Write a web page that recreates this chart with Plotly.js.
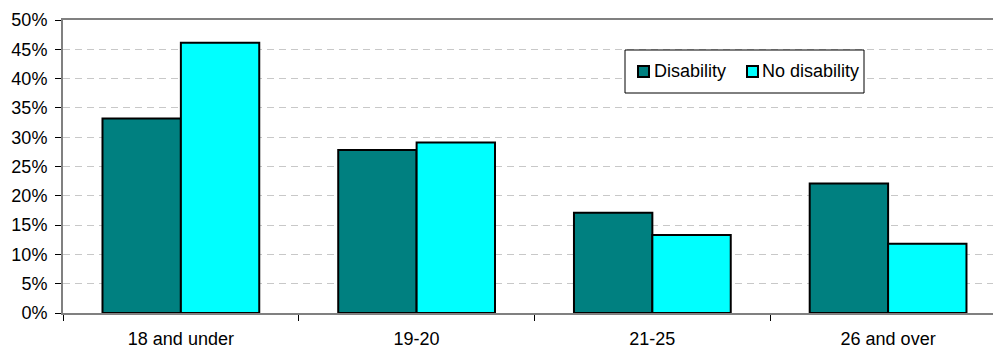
<!DOCTYPE html>
<html>
<head>
<meta charset="utf-8">
<script src="https://cdn.plot.ly/plotly-3.0.1.min.js"></script>
<style>html,body{margin:0;padding:0;background:#fff;overflow:hidden}#chart{width:993px;height:350px}</style>
</head>
<body>
<div id="chart"></div>
<script>
const categories = ["18 and under", "19-20", "21-25", "26 and over"];
const disability = [33.2, 27.8, 17.1, 22.1];
const noDisability = [46.1, 29.1, 13.3, 11.8];
const seriesNames = ["Disability", "No disability"];
const seriesColors = ["#008080", "#00FFFF"];
const yTickVals = [0, 5, 10, 15, 20, 25, 30, 35, 40, 45, 50];
const yTickText = ["0%", "5%", "10%", "15%", "20%", "25%", "30%", "35%", "40%", "45%", "50%"];

const font = {family: "Liberation Sans, Arial, sans-serif", size: 18, color: "#000"};

const traces = [
  {type: "bar", name: seriesNames[0], x: categories, y: disability,
   marker: {color: seriesColors[0], line: {color: "#000", width: 2}}},
  {type: "bar", name: seriesNames[1], x: categories, y: noDisability,
   marker: {color: seriesColors[1], line: {color: "#000", width: 2}}}
];

// custom legend (paper pixel positions converted to paper fractions)
const W = 993, H = 350, L = 63, R = 0, T = 20, B = 37;
const pw = W - L - R, ph = H - T - B;
const px = x => (x - L) / pw;
const py = y => (H - B - y) / ph;
const shapes = [
  {type: "rect", xref: "paper", yref: "paper", x0: px(625), x1: px(864), y0: py(93), y1: py(50),
   line: {color: "#000", width: 1}, fillcolor: "#fff", layer: "above"},
  {type: "rect", xref: "paper", yref: "paper", x0: px(638), x1: px(649), y0: py(77), y1: py(66),
   line: {color: "#000", width: 2}, fillcolor: seriesColors[0], layer: "above"},
  {type: "rect", xref: "paper", yref: "paper", x0: px(747), x1: px(758), y0: py(77), y1: py(66),
   line: {color: "#000", width: 2}, fillcolor: seriesColors[1], layer: "above"}
];
const annotations = [
  {xref: "paper", yref: "paper", x: px(652), y: py(71.5), xanchor: "left", yanchor: "middle",
   text: seriesNames[0], showarrow: false, font: font},
  {xref: "paper", yref: "paper", x: px(760), y: py(71.5), xanchor: "left", yanchor: "middle",
   text: seriesNames[1], showarrow: false, font: font}
];

const layout = {
  width: W, height: H,
  margin: {l: L, r: R, t: T, b: B, pad: 0},
  paper_bgcolor: "#fff", plot_bgcolor: "#fff",
  font: font,
  barmode: "group", bargap: 0.335, bargroupgap: 0,
  showlegend: false,
  shapes: shapes, annotations: annotations,
  xaxis: {type: "category", range: [-0.5, 3.445], showgrid: false, zeroline: false,
          showline: true, linecolor: "#808080", linewidth: 2, mirror: true,
          ticks: "outside", tickson: "boundaries", ticklen: 6, tickcolor: "#000", tickwidth: 1,
          tickfont: font, ticklabelstandoff: 8, fixedrange: true},
  yaxis: {range: [0, 50], tickvals: yTickVals, ticktext: yTickText,
          showgrid: true, gridcolor: "#c8c8c8", griddash: "7px,5px", gridwidth: 1,
          zeroline: false, showline: true, linecolor: "#808080", linewidth: 2,
          ticks: "outside", ticklen: 6, tickcolor: "#000", tickwidth: 1,
          tickfont: font, ticklabelstandoff: 4, fixedrange: true}
};

Plotly.newPlot("chart", traces, layout, {displayModeBar: false, staticPlot: true});
</script>
</body>
</html>
